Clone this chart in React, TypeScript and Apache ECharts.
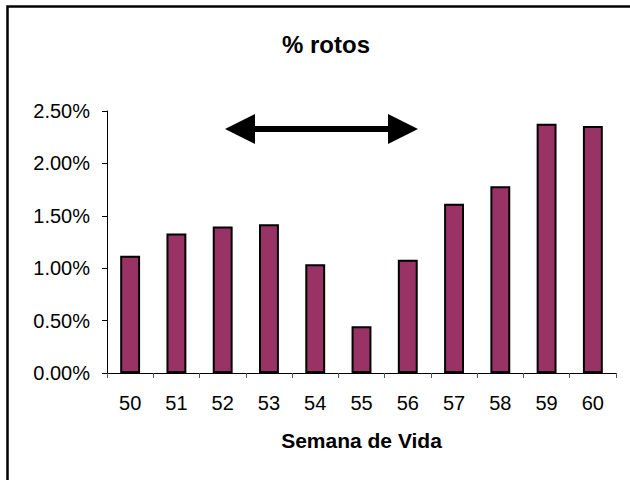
import React, { useEffect, useRef } from "react";
import * as echarts from "echarts";

const categories = ["50", "51", "52", "53", "54", "55", "56", "57", "58", "59", "60"];
const values = [0.01118, 0.01332, 0.01398, 0.0142, 0.01038, 0.00446, 0.0108, 0.01614, 0.01781, 0.02379, 0.02357];
const yTicks = [0, 0.005, 0.01, 0.015, 0.02, 0.025];
const titleText = "% rotos";
const xAxisName = "Semana de Vida";

const FONT = "'Liberation Sans', Arial, sans-serif";

export default function App() {
  const ref = useRef<HTMLDivElement>(null);
  useEffect(() => {
    if (!ref.current) return;
    const chart = echarts.init(ref.current, undefined, { renderer: "svg" });
    const shaftY = 129;
    chart.setOption({
      animation: false,
      backgroundColor: "#ffffff",
      title: {
        text: titleText,
        left: 277,
        top: 27,
        textStyle: { fontFamily: FONT, fontSize: 24, fontWeight: "bold", color: "#000" },
      },
      grid: { left: 107, right: 14, top: 111, bottom: 107, containLabel: false },
      xAxis: {
        type: "category",
        data: categories,
        name: xAxisName,
        nameLocation: "middle",
        nameGap: 57,
        nameTextStyle: { fontFamily: FONT, fontSize: 21, fontWeight: "bold", color: "#000" },
        axisLine: { lineStyle: { color: "#000", width: 1 } },
        axisTick: { show: true, length: 5, alignWithLabel: false, lineStyle: { color: "#555" } },
        axisLabel: { fontFamily: FONT, fontSize: 20, color: "#000", margin: 20 },
        splitLine: { show: false },
      },
      yAxis: {
        type: "value",
        min: yTicks[0],
        max: yTicks[yTicks.length - 1],
        interval: 0.005,
        axisLine: { show: true, lineStyle: { color: "#000", width: 1 } },
        axisTick: { show: true, length: 5, lineStyle: { color: "#000" } },
        axisLabel: {
          fontFamily: FONT,
          fontSize: 20,
          color: "#000",
          margin: 17,
          formatter: (v: number) => (v * 100).toFixed(2) + "%",
        },
        splitLine: { show: false },
      },
      series: [
        {
          type: "bar",
          data: values,
          barWidth: "43%",
          itemStyle: { color: "#993366", borderColor: "#000", borderWidth: 2 },
        },
      ],
      graphic: [
        {
          type: "rect",
          shape: { x: 7.5, y: 6.5, width: 700, height: 600 },
          style: { fill: "none", stroke: "#000", lineWidth: 2.5 },
          silent: true,
        },
        {
          type: "rect",
          shape: { x: 250, y: shaftY - 3, width: 143, height: 6 },
          style: { fill: "#000" },
        },
        {
          type: "polygon",
          shape: { points: [[225, shaftY], [255, shaftY - 15], [255, shaftY + 15]] },
          style: { fill: "#000" },
        },
        {
          type: "polygon",
          shape: { points: [[418, shaftY], [388, shaftY - 15], [388, shaftY + 15]] },
          style: { fill: "#000" },
        },
      ],
    });
    return () => chart.dispose();
  }, []);
  return (
    <div
      ref={ref}
      style={{ position: "fixed", left: 0, top: 0, width: 630, height: 480 }}
    />
  );
}
